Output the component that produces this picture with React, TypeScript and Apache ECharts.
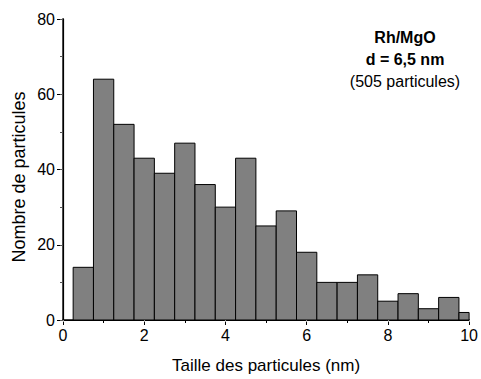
import React, { useEffect, useRef } from "react";
import * as echarts from "echarts";

const binCenters = [0.5, 1, 1.5, 2, 2.5, 3, 3.5, 4, 4.5, 5, 5.5, 6, 6.5, 7, 7.5, 8, 8.5, 9, 9.5, 10];
const counts = [14, 64, 52, 43, 39, 47, 36, 30, 43, 25, 29, 18, 10, 10, 12, 5, 7, 3, 6, 2];
const binWidth = 0.5;
const annotationLines = ["Rh/MgO", "d = 6,5 nm", "(505 particules)"];
const xTitle = "Taille des particules (nm)";
const yTitle = "Nombre de particules";

const FONT = "'Liberation Sans', Arial, sans-serif";

export default function App() {
  const ref = useRef<HTMLDivElement>(null);
  useEffect(() => {
    if (!ref.current) return;
    const chart = echarts.init(ref.current, undefined, { renderer: "svg", width: 481, height: 379 });
    const data = binCenters.map((c, i) => [c, counts[i]]);
    chart.setOption({
      animation: false,
      backgroundColor: "#fff",
      grid: { left: 63, right: 6, top: 19, bottom: 55, containLabel: false },
      xAxis: [
        {
          type: "value",
          min: 0,
          max: 10,
          interval: 2,
          position: "bottom",
          name: xTitle,
          nameLocation: "middle",
          nameGap: 37,
          nameTextStyle: { fontFamily: FONT, fontSize: 17, color: "#000" },
          axisLine: { show: true, onZero: false, lineStyle: { color: "#000", width: 1.5 } },
          axisTick: { show: true, inside: false, length: 5, lineStyle: { color: "#000" } },
          minorTick: { show: true, splitNumber: 2, length: 3, lineStyle: { color: "#000" } },
          axisLabel: { fontFamily: FONT, fontSize: 16, color: "#000", margin: 7 },
          splitLine: { show: false },
        },
        {
          type: "value",
          min: 0,
          max: 10,
          interval: 2,
          position: "top",
          axisLine: { show: true, lineStyle: { color: "#000", width: 1.2 } },
          axisTick: { show: true, inside: true, length: 2, lineStyle: { color: "#999" } },
          minorTick: { show: false },
          axisLabel: { show: false },
          splitLine: { show: false },
        },
      ],
      yAxis: [
        {
          type: "value",
          min: 0,
          max: 80,
          interval: 20,
          position: "left",
          axisLine: { show: true, onZero: false, lineStyle: { color: "#555", width: 2 } },
          axisTick: { show: true, inside: false, length: 6, lineStyle: { color: "#000" } },
          minorTick: { show: true, splitNumber: 2, length: 3, lineStyle: { color: "#000" } },
          axisLabel: { fontFamily: FONT, fontSize: 16, color: "#000", margin: 8 },
          splitLine: { show: false },
        },
        {
          type: "value",
          min: 0,
          max: 80,
          interval: 10,
          position: "right",
          axisLine: { show: true, lineStyle: { color: "#000", width: 1.2 } },
          axisTick: { show: true, inside: true, length: 3, lineStyle: { color: "#555" } },
          axisLabel: { show: false },
          splitLine: { show: false },
        },
      ],
      series: [
        {
          type: "custom",
          xAxisIndex: 0,
          yAxisIndex: 0,
          data,
          clip: true,
          renderItem: (params: any, api: any) => {
            const c = api.value(0);
            const v = api.value(1);
            const p0 = api.coord([c - binWidth / 2, v]);
            const p1 = api.coord([c + binWidth / 2, 0]);
            const rect = echarts.graphic.clipRectByRect(
              { x: p0[0], y: p0[1], width: p1[0] - p0[0], height: p1[1] - p0[1] },
              {
                x: params.coordSys.x,
                y: params.coordSys.y,
                width: params.coordSys.width,
                height: params.coordSys.height,
              }
            );
            if (!rect) return null;
            return {
              type: "rect",
              shape: rect,
              style: { fill: "#808080", stroke: "#000", lineWidth: 1 },
            };
          },
        },
      ],
      graphic: [
        {
          type: "text",
          x: 19,
          y: 177,
          rotation: Math.PI / 2,
          style: {
            text: yTitle,
            font: `18px ${FONT}`,
            fill: "#000",
            align: "center",
            verticalAlign: "middle",
          },
        },
        {
          type: "text",
          x: 405,
          y: 37,
          style: {
            text: annotationLines[0],
            font: `bold 16px ${FONT}`,
            fill: "#000",
            align: "center",
            verticalAlign: "middle",
          },
        },
        {
          type: "text",
          x: 405,
          y: 59,
          style: {
            text: annotationLines[1],
            font: `bold 16px ${FONT}`,
            fill: "#000",
            align: "center",
            verticalAlign: "middle",
          },
        },
        {
          type: "text",
          x: 405,
          y: 81,
          style: {
            text: annotationLines[2],
            font: `16px ${FONT}`,
            fill: "#000",
            align: "center",
            verticalAlign: "middle",
          },
        },
      ],
    });
    return () => chart.dispose();
  }, []);
  return <div ref={ref} style={{ width: 481, height: 379, position: "absolute", left: 0, top: 0 }} />;
}
